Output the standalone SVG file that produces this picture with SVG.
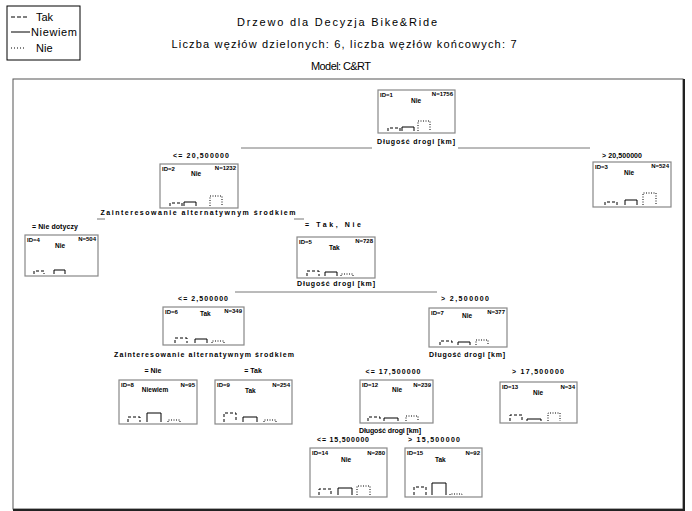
<svg xmlns="http://www.w3.org/2000/svg" width="692" height="511" viewBox="0 0 692 511">
<style>
text{font-family:"Liberation Sans",Arial,sans-serif;fill:#000}
.t{font-size:11px}
.lg{font-size:11px}
.n{font-size:6px;font-weight:bold}
.c{font-size:6.5px;font-weight:bold}
.s{font-size:7px;font-weight:bold;text-anchor:middle}
.e{font-size:7px;font-weight:bold;text-anchor:middle}
.box{fill:#fff;stroke:#888;stroke-width:1.2}
.con{stroke:#777;stroke-width:1;fill:none}
.bt{fill:none;stroke:#000;stroke-width:1;stroke-dasharray:3 2}
.bn{fill:none;stroke:#000;stroke-width:1}
.bi{fill:none;stroke:#000;stroke-width:1;stroke-dasharray:1 1.5}
</style>
<rect width="692" height="511" fill="#fff"/>
<g id="legend">
<rect x="7" y="6" width="73" height="54" fill="#fff" stroke="#000"/>
<line x1="11" y1="17" x2="28" y2="17" stroke="#000" stroke-dasharray="4 2"/>
<text class="lg" x="36" y="21">Tak</text>
<line x1="11" y1="32" x2="30" y2="32" stroke="#000"/>
<text class="lg" x="31" y="36" textLength="46" lengthAdjust="spacing">Niewiem</text>
<line x1="11" y1="48" x2="24" y2="48" stroke="#000" stroke-dasharray="1 2"/>
<text class="lg" x="36" y="52">Nie</text>
</g>
<g id="title">
<text class="t" x="337" y="26" text-anchor="middle" textLength="200" lengthAdjust="spacing">Drzewo dla Decyzja Bike&amp;Ride</text>
<text class="t" x="344" y="48" text-anchor="middle" textLength="345" lengthAdjust="spacing">Liczba węzłów dzielonych: 6, liczba węzłów końcowych: 7</text>
<text class="t" x="341" y="70" text-anchor="middle" textLength="60" lengthAdjust="spacing">Model: C&amp;RT</text>
</g>
<g id="frame">
<rect x="13" y="79" width="670" height="430" fill="none" stroke="#555"/>
<line x1="684" y1="79" x2="684" y2="510" stroke="#222" stroke-width="2"/>
<line x1="13" y1="510" x2="685" y2="510" stroke="#222" stroke-width="2"/>
</g>
<g id="connectors">
<line class="con" x1="241" y1="148" x2="372" y2="148"/>
<line class="con" x1="458" y1="148" x2="590" y2="148"/>
<line class="con" x1="97" y1="219" x2="105" y2="219"/>
<line class="con" x1="294" y1="219" x2="304" y2="219"/>
<line class="con" x1="235" y1="292" x2="437" y2="292"/>
</g>
<g id="node1">
<rect class="box" x="378" y="90" width="77" height="43"/>
<text class="n" x="380" y="97">ID=1</text><text class="n" x="453" y="96" text-anchor="end">N=1756</text>
<text class="c" x="411" y="103">Nie</text>
<path class="bt" d="M388 131V128H400V131"/><path class="bn" d="M402 131V127H414V131"/><path class="bi" d="M418 131V121H430V131"/>
<text class="s" x="416" y="144" textLength="78" lengthAdjust="spacing">Długość drogi [km]</text>
</g>
<g id="node2">
<text class="e" x="201" y="158" textLength="56" lengthAdjust="spacing">&lt;= 20,500000</text>
<rect class="box" x="160" y="164" width="78" height="44"/>
<text class="n" x="162" y="171">ID=2</text><text class="n" x="236" y="170" text-anchor="end">N=1232</text>
<text class="c" x="191" y="176">Nie</text>
<path class="bt" d="M170 206V203H182V206"/><path class="bn" d="M184 206V202H196V206"/><path class="bi" d="M210 206V196H222V206"/>
<text class="s" x="198" y="215" textLength="195" lengthAdjust="spacing">Zainteresowanie alternatywnym środkiem</text>
</g>
<g id="node3">
<text class="e" x="622" y="158" textLength="40" lengthAdjust="spacing">&gt; 20,500000</text>
<rect class="box" x="593" y="162" width="78" height="45"/>
<text class="n" x="595" y="169">ID=3</text><text class="n" x="669" y="168" text-anchor="end">N=524</text>
<text class="c" x="624" y="175">Nie</text>
<path class="bt" d="M605 205V202H617V205"/><path class="bn" d="M625 205V200H637V205"/><path class="bi" d="M643 205V193H656V205"/>
</g>
<g id="node4">
<text class="e" x="55" y="229" textLength="46" lengthAdjust="spacing">= Nie dotyczy</text>
<rect class="box" x="25" y="235" width="73" height="41"/>
<text class="n" x="27" y="242">ID=4</text><text class="n" x="96" y="241" text-anchor="end">N=504</text>
<text class="c" x="55" y="248">Nie</text>
<path class="bt" d="M34 274V271H44V274"/><path class="bn" d="M54 274V270H65V274"/>
</g>
<g id="node5">
<text class="e" x="333" y="227" textLength="56" lengthAdjust="spacing">= Tak, Nie</text>
<rect class="box" x="297" y="237" width="78" height="41"/>
<text class="n" x="299" y="244">ID=5</text><text class="n" x="373" y="243" text-anchor="end">N=728</text>
<text class="c" x="329" y="250">Tak</text>
<path class="bt" d="M307 276V271H319V276"/><path class="bn" d="M325 276V272H337V276"/><path class="bi" d="M341 276V274H353V276"/>
<text class="s" x="336" y="286" textLength="78" lengthAdjust="spacing">Długość drogi [km]</text>
</g>
<g id="node6">
<text class="e" x="203" y="301" textLength="50" lengthAdjust="spacing">&lt;= 2,500000</text>
<rect class="box" x="163" y="307" width="81" height="38"/>
<text class="n" x="165" y="314">ID=6</text><text class="n" x="242" y="313" text-anchor="end">N=349</text>
<text class="c" x="200" y="316">Tak</text>
<path class="bt" d="M175 343V338H187V343"/><path class="bn" d="M195 343V339H207V343"/><path class="bi" d="M212 343V341H224V343"/>
<text class="s" x="204" y="357" textLength="180" lengthAdjust="spacing">Zainteresowanie alternatywnym środkiem</text>
</g>
<g id="node7">
<text class="e" x="465" y="301" textLength="48" lengthAdjust="spacing">&gt; 2,500000</text>
<rect class="box" x="429" y="308" width="78" height="39"/>
<text class="n" x="431" y="315">ID=7</text><text class="n" x="505" y="314" text-anchor="end">N=377</text>
<text class="c" x="462" y="318">Nie</text>
<path class="bt" d="M440 345V341H452V345"/><path class="bn" d="M458 345V342H470V345"/><path class="bi" d="M476 345V340H488V345"/>
<text class="s" x="467" y="357" textLength="76" lengthAdjust="spacing">Długość drogi [km]</text>
</g>
<g id="node8">
<text class="e" x="153" y="373">= Nie</text>
<rect class="box" x="119" y="380" width="78" height="44"/>
<text class="n" x="121" y="387">ID=8</text><text class="n" x="195" y="387" text-anchor="end">N=95</text>
<text class="c" x="155" y="392" text-anchor="middle">Niewiem</text>
<path class="bt" d="M128 422V417H140V422"/><path class="bn" d="M147 422V413H161V422"/><path class="bi" d="M168 422V420H180V422"/>
</g>
<g id="node9">
<text class="e" x="253" y="373">= Tak</text>
<rect class="box" x="215" y="380" width="77" height="44"/>
<text class="n" x="217" y="387">ID=9</text><text class="n" x="290" y="387" text-anchor="end">N=254</text>
<text class="c" x="245" y="393">Tak</text>
<path class="bt" d="M224 422V413H236V422"/><path class="bn" d="M243 422V417H257V422"/><path class="bi" d="M264 422V420H276V422"/>
</g>
<g id="node12">
<text class="e" x="393" y="374" textLength="55" lengthAdjust="spacing">&lt;= 17,500000</text>
<rect class="box" x="360" y="380" width="73" height="43"/>
<text class="n" x="362" y="387">ID=12</text><text class="n" x="431" y="387" text-anchor="end">N=239</text>
<text class="c" x="392" y="392">Nie</text>
<path class="bt" d="M368 421V417H380V421"/><path class="bn" d="M384 421V418H398V421"/><path class="bi" d="M406 421V416H418V421"/>
<text class="s" x="390" y="433" textLength="62" lengthAdjust="spacing">Długość drogi [km]</text>
</g>
<g id="node13">
<text class="e" x="538" y="374" textLength="52" lengthAdjust="spacing">&gt; 17,500000</text>
<rect class="box" x="500" y="382" width="77" height="41"/>
<text class="n" x="502" y="389">ID=13</text><text class="n" x="575" y="389" text-anchor="end">N=34</text>
<text class="c" x="533" y="395">Nie</text>
<path class="bt" d="M510 421V415H522V421"/><path class="bn" d="M527 421V419H541V421"/><path class="bi" d="M548 421V413H560V421"/>
</g>
<g id="node14">
<text class="e" x="343" y="442" textLength="52" lengthAdjust="spacing">&lt;= 15,500000</text>
<rect class="box" x="310" y="448" width="77" height="49"/>
<text class="n" x="312" y="455">ID=14</text><text class="n" x="385" y="455" text-anchor="end">N=280</text>
<text class="c" x="341" y="462">Nie</text>
<path class="bt" d="M319 495V489H331V495"/><path class="bn" d="M338 495V488H352V495"/><path class="bi" d="M357 495V486H370V495"/>
</g>
<g id="node15">
<text class="e" x="434" y="442" textLength="52" lengthAdjust="spacing">&gt; 15,500000</text>
<rect class="box" x="405" y="448" width="77" height="49"/>
<text class="n" x="407" y="455">ID=15</text><text class="n" x="480" y="455" text-anchor="end">N=92</text>
<text class="c" x="435" y="462">Tak</text>
<path class="bt" d="M414 495V487H426V495"/><path class="bn" d="M432 495V483H446V495"/><path class="bi" d="M450 495V494H462V495"/>
</g>
</svg>
